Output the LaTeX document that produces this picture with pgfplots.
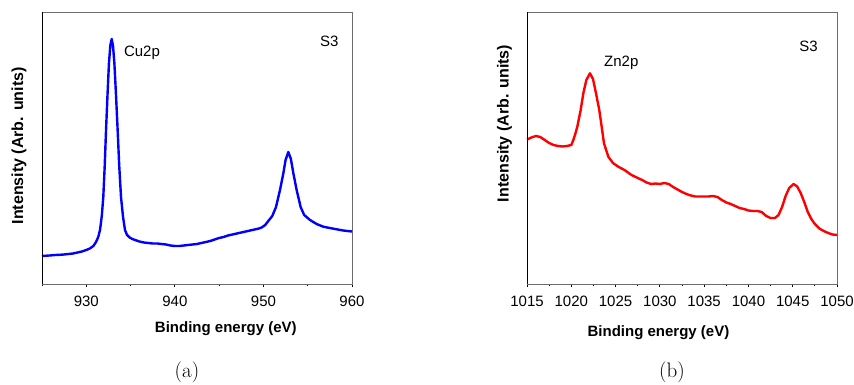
\documentclass[border=0pt]{standalone}
\usepackage{fontspec}
\newfontfamily\arial{Liberation Sans}
\usepackage{pgfplots}
\pgfplotsset{compat=1.18}
\begin{document}
\begin{tikzpicture}[x=1pt,y=1pt]
\path[use as bounding box] (0pt,0pt) rectangle (854pt,385pt);
\pgfplotsset{
  xps/.style={
    scale only axis, width=310pt, height=272pt,
    ymin=0, ymax=272, ytick=\empty,
    axis line style={draw=gray!85!black, line width=0.8pt},
    tick align=outside, xtick pos=bottom,
    major tick length=3.5pt, minor tick length=2pt,
    every tick/.style={black, line width=0.8pt},
    tick label style={font=\arial\fontsize{15}{15}\selectfont},
    xticklabel style={yshift=-5pt},
    /pgf/number format/assume math mode=true,
    /pgf/number format/1000 sep={},
    xlabel style={font=\arial\bfseries\fontsize{15}{15}\selectfont, anchor=center},
    ylabel style={font=\arial\bfseries\fontsize{16}{16}\selectfont, anchor=center},
    clip=false,
  }
}
\begin{axis}[xps, at={(42pt,101pt)}, anchor=south west,
  xmin=925, xmax=960, xtick={930,940,950,960}, minor xtick={925,935,945,955},
  xlabel={Binding energy (eV)},
  xlabel style={at={(axis description cs:0.593,-0.165)}},
  ylabel={Intensity (Arb. units)},
  ylabel style={at={(axis description cs:-0.074,0.508)}},
]
\addplot[color={rgb,255:red,0;green,0;blue,255}, line width=2.4pt, line join=round] coordinates {
(925.0,28) (925.5,28.3) (926,28.6) (926.5,29) (927,29.2) (927.5,29.5) (928,30) (928.5,30.5) (929,31.5) (929.5,32.5) (930,34) (930.4,35.5) (930.8,38) (931.1,42) (931.35,47) (931.55,54) (931.75,68) (931.92,87) (932.08,118) (932.23,154) (932.4,190) (932.56,221) (932.72,239) (932.87,245) (933.02,238) (933.17,221) (933.35,190) (933.54,154) (933.72,118) (933.92,87) (934.15,67) (934.37,54) (934.6,49) (934.9,46.5) (935.2,45) (935.5,44) (936,42.5) (936.5,41.5) (937,41) (937.5,40.5) (938,40.5) (938.5,40) (939,39.5) (939.5,38.5) (940,38) (940.5,38) (941,38.5) (941.5,39) (942,39.5) (942.5,40) (943,41) (943.5,42) (944,43) (944.5,44.5) (945,46) (945.5,47) (946,48.5) (946.5,49.5) (947,50.5) (947.5,51.5) (948,52.5) (948.5,53.5) (949,54.5) (949.5,55.5) (949.8,56.5) (950.2,59) (950.55,63) (951,68) (951.42,77) (951.87,94) (952.25,110.7) (952.5,124) (952.81,132) (953.1,125) (953.38,110.7) (953.75,94) (954.2,77) (954.6,69) (955.26,64) (956,60) (956.76,57.3) (957.5,56) (958.27,54.7) (959,53.5) (960,52.5)
};
\draw[black, line width=0.8pt] (rel axis cs:0,1) -- (rel axis cs:0,0);
\node[font=\arial\fontsize{15}{15}\selectfont] at (axis cs:936.29,231.3) {Cu2p};
\node[font=\arial\fontsize{15}{15}\selectfont] at (axis cs:957.43,242.3) {S3};
\end{axis}
\begin{axis}[xps, at={(527pt,101pt)}, anchor=south west,
  xmin=1015, xmax=1050, xtick={1015,1020,...,1050},
  minor x tick num=1,
  xlabel={Binding energy (eV)},
  xlabel style={at={(axis description cs:0.424,-0.178)}},
  ylabel={Intensity (Arb. units)},
  ylabel style={at={(axis description cs:-0.073,0.59)}},
]
\addplot[color={rgb,255:red,255;green,0;blue,0}, line width=2.4pt, line join=round] coordinates {
(1015,144.5) (1015.5,146.5) (1016,148) (1016.5,147) (1017,144) (1017.5,141) (1018,139) (1018.5,138) (1019,137.5) (1019.5,138) (1020,139) (1020.23,144) (1020.45,150) (1020.68,157.3) (1021.06,174) (1021.36,190.7) (1021.7,204) (1022.11,210.7) (1022.45,205) (1022.79,190.7) (1023.16,174) (1023.43,157.3) (1023.69,140.7) (1024.18,127.3) (1024.7,121) (1025.3,117.3) (1026,114) (1026.8,109) (1027.5,106) (1028,104) (1028.5,101.5) (1029,100) (1029.5,100.5) (1030,100) (1030.5,101) (1031,100) (1031.5,97) (1032,94.5) (1032.5,92) (1033,90) (1033.5,88.5) (1034,87.5) (1034.5,87.5) (1035,87.5) (1035.5,87.5) (1036,88) (1036.5,87) (1037,84) (1037.5,81.5) (1038,80) (1038.5,78) (1039,76) (1039.5,75) (1040,73.5) (1040.5,73) (1041,73) (1041.5,72) (1042,68) (1042.5,66) (1043,66) (1043.4,69) (1043.8,77) (1044.2,88) (1044.6,96) (1045.1,100) (1045.5,97.5) (1045.9,91) (1046.3,82) (1046.7,72) (1047.1,65) (1047.5,60) (1048,55.5) (1048.5,53) (1049,51) (1049.5,49.5) (1050,49)
};
\draw[black, line width=0.8pt] (rel axis cs:0,1) -- (rel axis cs:0,0);
\node[font=\arial\fontsize{15}{15}\selectfont] at (axis cs:1025.65,220.7) {Zn2p};
\node[font=\arial\fontsize{15}{15}\selectfont] at (axis cs:1046.8,237.3) {S3};
\end{axis}
\node[font=\fontsize{21}{21}\selectfont] at (187pt,13pt) {(a)};
\node[font=\fontsize{21}{21}\selectfont] at (672pt,13pt) {(b)};
\end{tikzpicture}
\end{document}
